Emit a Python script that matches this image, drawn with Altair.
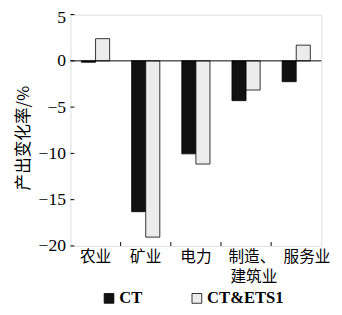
import altair as alt
import pandas as pd

categories = ["农业", "矿业", "电力", "制造、建筑业", "服务业"]
label_line1 = ["农业", "矿业", "电力", "制造、", "服务业"]
label_line2 = ["", "", "", "建筑业", ""]
series = ["CT", "CT&ETS1"]
ct_values = [-0.15, -16.3, -10.05, -4.3, -2.25]
ets_values = [2.4, -19.05, -11.15, -3.15, 1.7]
y_ticks = [5, 0, -5, -10, -15, -20]

rows = []
for c, a, b in zip(categories, ct_values, ets_values):
    rows.append({"category": c, "series": series[0], "value": a})
    rows.append({"category": c, "series": series[1], "value": b})
df = pd.DataFrame(rows)

W, H = 257, 237
NUM_FONT = "Liberation Serif"
CJK_FONT = "Noto Sans CJK SC"

line1_map = ", ".join(f"'{c}': '{l}'" for c, l in zip(categories, label_line1))

xscale = alt.Scale(domain=categories, paddingInner=0, paddingOuter=0)
yscale = alt.Scale(domain=[-20, 5], nice=False, zero=False)

bars = alt.Chart(df).mark_bar(stroke="black", strokeWidth=0.8).encode(
    x=alt.X("category:N", sort=categories, scale=xscale,
            axis=alt.Axis(title=None, tickSize=0, domain=False, labelAngle=0,
                          labelFont=CJK_FONT, labelFontSize=16, labelColor="black",
                          labelPadding=3,
                          labelOffset={"condition": [
                              {"test": "datum.value == '制造、建筑业'", "value": 6},
                              {"test": "datum.value == '服务业'", "value": 11}],
                              "value": 0},
                          labelExpr="{" + line1_map + "}[datum.value]")),
    xOffset=alt.XOffset("series:N", sort=series,
                        scale=alt.Scale(domain=series, paddingOuter=0.78, paddingInner=0)),
    y=alt.Y("value:Q", scale=yscale,
            axis=alt.Axis(title="产出变化率/%", values=y_ticks, tickSize=0, domain=False, grid=False,
                          labelFont=NUM_FONT, labelFontSize=18, labelColor="black", labelPadding=5,
                          labelOffset={"condition": {"test": "datum.value == 5", "value": 3}, "value": 0},
                          titleFont=CJK_FONT, titleFontSize=17, titleFontWeight="normal",
                          titleColor="black", titlePadding=6, titleY=126)),
    color=alt.Color("series:N", sort=series,
                    scale=alt.Scale(domain=series, range=["#111111", "#ececec"]),
                    legend=alt.Legend(title=None, orient="none", legendX=31, legendY=282,
                                      direction="horizontal", symbolType="square", symbolSize=100,
                                      symbolStrokeColor="black", symbolStrokeWidth=0.8,
                                      labelFont=NUM_FONT, labelFontSize=17, labelFontWeight="bold",
                                      labelColor="black", columnPadding=47, labelOffset=2)),
)

line2_df = pd.DataFrame({"category": categories, "line2": label_line2})
line2_df = line2_df[line2_df["line2"] != ""]
line2 = alt.Chart(line2_df).mark_text(
    font=CJK_FONT, fontSize=16, color="black", baseline="top", dx=8
).encode(
    x=alt.X("category:N", sort=categories, scale=xscale),
    y=alt.value(H + 24),
    text="line2:N",
)

zero = alt.Chart(pd.DataFrame({"z": [0]})).mark_rule(color="black", strokeWidth=1).encode(
    y=alt.Y("z:Q", scale=yscale)
)

xtick_df = pd.DataFrame({"category": categories[1:]})
xticks = alt.Chart(xtick_df).mark_rule(color="black", strokeWidth=1).encode(
    x=alt.X("category:N", sort=categories, scale=xscale, bandPosition=0),
    y=alt.value(H),
    y2=alt.value(H - 4),
)

ytick_df = pd.DataFrame({"t": y_ticks})
yticks = alt.Chart(ytick_df).mark_rule(color="black", strokeWidth=1).encode(
    y=alt.Y("t:Q", scale=yscale),
    x=alt.value(0),
    x2=alt.value(4),
)

chart = alt.layer(bars, zero, xticks, yticks, line2).properties(
    width=W, height=H,
    autosize=alt.AutoSizeParams(type="none"),
    padding={"left": 64, "top": 3, "right": 13, "bottom": 67},
).configure_view(stroke="black", strokeWidth=1).configure(background="white")

chart.save("out.html", embed_options={"renderer": "svg", "actions": False})
